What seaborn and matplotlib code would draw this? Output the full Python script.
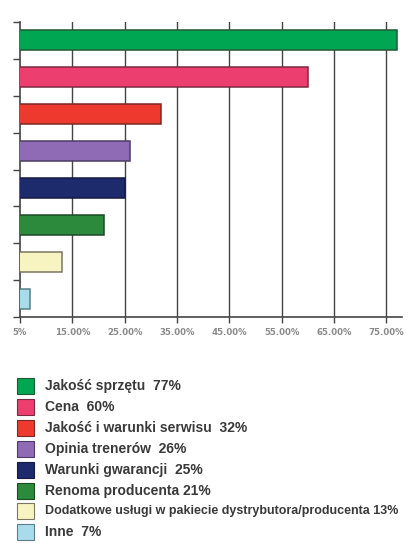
import matplotlib
matplotlib.use("Agg")
import matplotlib.pyplot as plt
from matplotlib.patches import Rectangle
import seaborn as sns
import pandas as pd

# Survey answers: what matters when choosing equipment (share of respondents)
categories = [
    "Jakość sprzętu",
    "Cena",
    "Jakość i warunki serwisu",
    "Opinia trenerów",
    "Warunki gwarancji",
    "Renoma producenta",
    "Dodatkowe usługi w pakiecie dystrybutora/producenta",
    "Inne",
]
values = [77, 60, 32, 26, 25, 21, 13, 7]
legend_labels = [
    "Jakość sprzętu  77%",
    "Cena  60%",
    "Jakość i warunki serwisu  32%",
    "Opinia trenerów  26%",
    "Warunki gwarancji  25%",
    "Renoma producenta 21%",
    "Dodatkowe usługi w pakiecie dystrybutora/producenta 13%",
    "Inne  7%",
]
colors = ["#00a651", "#ec3f70", "#ee3a2e", "#8f6bb6",
          "#1d2a6c", "#2b8a3c", "#f8f4c2", "#a9dcea"]
edge_colors = ["#1f5a35", "#7a2a40", "#7a2a22", "#4c3b66",
               "#141a40", "#1c4a24", "#7a7660", "#5a7f88"]
tick_values = [5, 15, 25, 35, 45, 55, 65, 75]
tick_labels = ["5%", "15.00%", "25.00%", "35.00%", "45.00%",
               "55.00%", "65.00%", "75.00%"]

df = pd.DataFrame({"kategoria": categories, "procent": values})

W, H = 410, 543
fig = plt.figure(figsize=(W / 100, H / 100), dpi=100)
fig.patch.set_facecolor("white")

ax = fig.add_axes([20 / W, 1 - 317 / H, 382 / W, 295 / H])
sns.barplot(data=df, x="procent", y="kategoria", hue="kategoria",
            palette=colors, saturation=1, orient="h", width=0.54,
            legend=False, ax=ax, zorder=3)
for patch, ec in zip(ax.patches, edge_colors):
    patch.set_edgecolor(ec)
    patch.set_linewidth(1.1)

ax.set_xlim(5, 78)
ax.set_ylim(7.5, -0.5)
ax.set_xlabel("")
ax.set_ylabel("")

# vertical grid lines
for t in tick_values[1:]:
    ax.axvline(t, color="#444444", linewidth=1.0, zorder=1)

ax.set_xticks(tick_values)
ax.set_xticklabels(tick_labels, fontsize=6.2, color="#8a8a8a",
                   fontweight="bold")
ax.tick_params(axis="x", direction="out", length=4, width=1,
               color="#444444", pad=4)

ax.set_yticks([])
ax.set_yticks([i - 0.5 for i in range(len(categories) + 1)], minor=True)
ax.tick_params(axis="y", which="minor", direction="out", length=5,
               width=1, color="#444444")

for side in ["top", "right"]:
    ax.spines[side].set_visible(False)
for side in ["left", "bottom"]:
    ax.spines[side].set_color("#444444")
    ax.spines[side].set_linewidth(1.2)
ax.set_facecolor("white")

# legend drawn as a column of coloured squares with labels
row0 = 386
step = 20.9
for i, (lab, c, ec) in enumerate(zip(legend_labels, colors, edge_colors)):
    yc = row0 + i * step
    fig.patches.append(Rectangle((17 / W, 1 - (yc + 8) / H), 17 / W, 16 / H,
                                 transform=fig.transFigure, facecolor=c,
                                 edgecolor=ec, linewidth=0.8))
    size = 9.0 if len(lab) > 40 else 10
    fig.text(45 / W, 1 - yc / H, lab, fontsize=size, color="#3a3a3a",
             fontweight="bold", va="center", ha="left",
             family=["Liberation Sans", "DejaVu Sans"])

fig.savefig("out.png", dpi=100, facecolor="white")
